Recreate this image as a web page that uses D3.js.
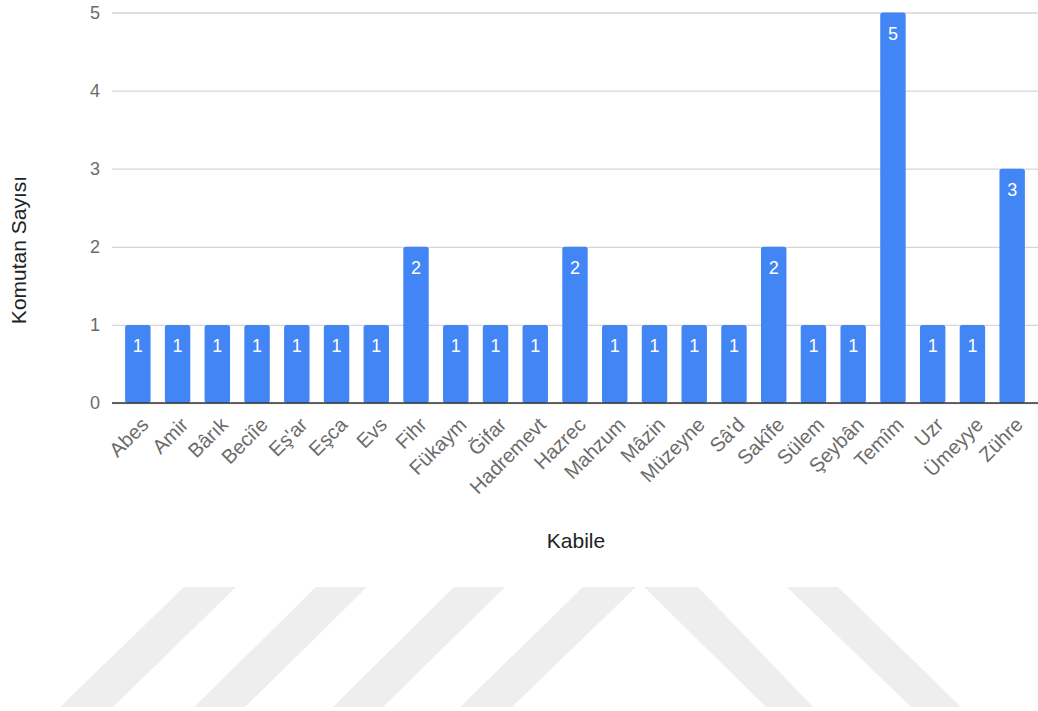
<!DOCTYPE html>
<html>
<head>
<meta charset="utf-8">
<script src="https://cdn.jsdelivr.net/npm/d3@7"></script>
<style>
  html, body { margin: 0; padding: 0; background: #fff; }
  svg { display: block; font-family: "Liberation Sans", Arial, Helvetica, sans-serif; }
</style>
</head>
<body>
<svg id="chart" width="1038" height="711"></svg>
<script>
const categories = ["Abes", "Amir", "Bârık", "Beciîe", "Eş'ar", "Eşca", "Evs", "Fihr", "Fükaym", "Ğifar", "Hadremevt", "Hazrec", "Mahzum", "Mâzin", "Müzeyne", "Sâ'd", "Sakîfe", "Sülem", "Şeybân", "Temîm", "Uzr", "Ümeyye", "Zühre"];
const values = [1, 1, 1, 1, 1, 1, 1, 2, 1, 1, 1, 2, 1, 1, 1, 1, 2, 1, 1, 5, 1, 1, 3];
const yTicks = [0, 1, 2, 3, 4, 5];
const xTitle = "Kabile";
const yTitle = "Komutan Sayısı";

// watermark parallelograms: [top-left x, top-right x, bottom-left x, bottom-right x]
const watermarkShapes = [
  [184, 236, 60, 113],
  [316, 367, 194, 245],
  [454, 505, 333, 383],
  [583, 636, 460, 512],
  [644, 698, 766, 813],
  [787, 838, 911, 961]
];

const svg = d3.select("#chart");
const x0 = 112, x1 = 1038, yTop = 12.5, yBot = 403;
const FONT = "'Liberation Sans', Arial, Helvetica, sans-serif";

// watermark
const wmTop = 587, wmBot = 707;
svg.append("g").selectAll("path").data(watermarkShapes).join("path")
  .attr("d", d => `M${d[0]},${wmTop}L${d[1]},${wmTop}L${d[3]},${wmBot}L${d[2]},${wmBot}Z`)
  .attr("fill", "#eeeeee");

const x = d3.scaleBand().domain(categories).range([x0, x1]).paddingInner(0.36).paddingOuter(0.33);
const y = d3.scaleLinear().domain([0, 5]).range([yBot, yTop]);

// gridlines + y tick labels
const yAxis = d3.axisLeft(y).tickValues(yTicks).tickSize(-(x1 - x0)).tickPadding(12).tickFormat(d3.format("d"));
const gy = svg.append("g").attr("transform", `translate(${x0},0)`).call(yAxis);
gy.select(".domain").remove();
gy.selectAll(".tick line").attr("stroke", "#d6d6d6").attr("stroke-width", 1.3);
gy.selectAll(".tick text").attr("fill", "#6b6b6b").attr("font-size", 18).attr("font-family", FONT);

// bars
svg.append("g").selectAll("rect").data(categories).join("rect")
  .attr("x", d => x(d))
  .attr("y", (d, i) => y(values[i]))
  .attr("width", x.bandwidth())
  .attr("height", (d, i) => y(0) - y(values[i]))
  .attr("rx", 2.5)
  .attr("fill", "#4285f4");

// baseline
svg.append("line").attr("x1", x0).attr("x2", x1).attr("y1", y(0)).attr("y2", y(0))
  .attr("stroke", "#333").attr("stroke-width", 1.5);

// bar value labels
svg.append("g").selectAll("text").data(categories).join("text")
  .attr("x", d => x(d) + x.bandwidth() / 2)
  .attr("y", (d, i) => y(values[i]) + 27)
  .attr("text-anchor", "middle")
  .attr("fill", "#ffffff")
  .attr("font-size", 18)
  .attr("font-family", FONT)
  .text((d, i) => values[i]);

// x axis labels
const xAxis = d3.axisBottom(x).tickSize(0).tickPadding(0);
const gx = svg.append("g").attr("transform", `translate(0,${yBot})`).call(xAxis);
gx.select(".domain").remove();
gx.selectAll(".tick text")
  .attr("fill", "#6b6b6b").attr("font-size", 20).attr("font-family", FONT)
  .attr("text-anchor", "end")
  .attr("dy", 0)
  .attr("y", 0)
  .attr("transform", "translate(12,23) rotate(-45)");

// axis titles
svg.append("text").attr("x", 576).attr("y", 548).attr("text-anchor", "middle")
  .attr("fill", "#222").attr("font-size", 21).attr("font-family", FONT).text(xTitle);
svg.append("text").attr("transform", "translate(26,250) rotate(-90)").attr("text-anchor", "middle")
  .attr("fill", "#222").attr("font-size", 21).attr("font-family", FONT).text(yTitle);
</script>
</body>
</html>
